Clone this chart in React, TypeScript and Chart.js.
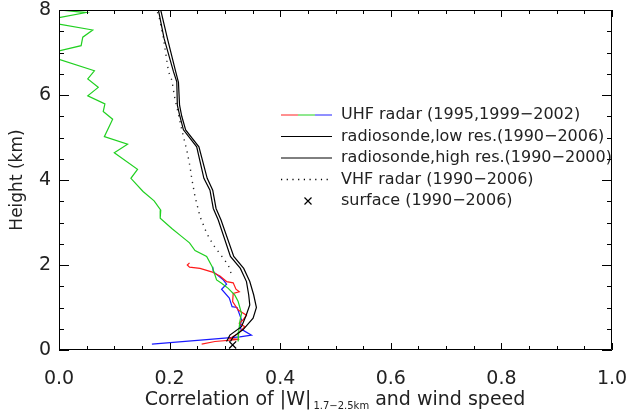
import React, { useEffect, useRef } from "react";
import { Chart, registerables } from "chart.js";

Chart.register(...registerables);

// ---------------- data ----------------
// UHF radar, green part (1999-2002): correlation vs height (km)
const uhfGreenCorr = [0.0, 0.049, 0.0, 0.0, 0.061, 0.043, 0.04, 0.0, 0.0, 0.064, 0.052, 0.071, 0.052, 0.083, 0.08, 0.097, 0.082, 0.124, 0.1, 0.142, 0.13, 0.152, 0.172, 0.184, 0.183, 0.204, 0.221, 0.236, 0.246, 0.267, 0.277, 0.285, 0.294, 0.306, 0.318, 0.324, 0.33, 0.327, 0.325, 0.324];
const uhfGreenHeight = [8.0, 7.94, 7.82, 7.67, 7.53, 7.36, 7.16, 7.04, 6.84, 6.57, 6.38, 6.18, 5.98, 5.79, 5.61, 5.43, 5.02, 4.84, 4.64, 4.25, 4.04, 3.73, 3.51, 3.29, 3.1, 2.86, 2.68, 2.52, 2.34, 2.2, 1.96, 1.65, 1.57, 1.45, 1.29, 1.14, 0.86, 0.67, 0.43, 0.2];

// UHF radar, red part
const uhfRedCorr = [0.236, 0.232, 0.236, 0.255, 0.276, 0.291, 0.303, 0.315, 0.32, 0.326, 0.315, 0.314, 0.324, 0.339, 0.333, 0.326, 0.336, 0.324, 0.309, 0.326, 0.282, 0.258];
const uhfRedHeight = [2.05, 2.0, 1.95, 1.92, 1.84, 1.74, 1.61, 1.58, 1.43, 1.37, 1.33, 1.14, 0.94, 0.82, 0.71, 0.63, 0.55, 0.39, 0.27, 0.25, 0.2, 0.14];

// UHF radar, blue part
const uhfBlueCorr = [0.278, 0.279, 0.297, 0.303, 0.294, 0.308, 0.313, 0.322, 0.33, 0.327, 0.348, 0.327, 0.168];
const uhfBlueHeight = [1.96, 1.84, 1.65, 1.55, 1.43, 1.22, 1.02, 1.0, 0.71, 0.51, 0.35, 0.31, 0.14];

// radiosonde, low resolution (1990-2006)
const sondeLowCorr = [0.183, 0.196, 0.211, 0.216, 0.218, 0.222, 0.229, 0.253, 0.268, 0.278, 0.284, 0.293, 0.316, 0.334, 0.345, 0.352, 0.357, 0.351, 0.333, 0.315, 0.31];
const sondeLowHeight = [8.05, 7.33, 6.55, 6.3, 5.76, 5.5, 5.18, 4.78, 4.04, 3.76, 3.33, 3.06, 2.2, 1.92, 1.61, 1.3, 1.0, 0.75, 0.48, 0.31, 0.2];

// radiosonde, high resolution (1990-2000)
const sondeHighCorr = [0.179, 0.19, 0.207, 0.213, 0.214, 0.218, 0.225, 0.249, 0.262, 0.273, 0.279, 0.288, 0.31, 0.328, 0.339, 0.343, 0.345, 0.338, 0.33, 0.309, 0.303];
const sondeHighHeight = [8.05, 7.33, 6.55, 6.31, 5.76, 5.53, 5.18, 4.78, 4.04, 3.76, 3.33, 3.06, 2.2, 1.92, 1.61, 1.3, 1.06, 0.8, 0.55, 0.35, 0.2];

// VHF radar (1990-2006)
const vhfCorr = [0.178, 0.181, 0.189, 0.198, 0.204, 0.21, 0.215, 0.222, 0.231, 0.237, 0.24, 0.246, 0.255, 0.267, 0.279, 0.297, 0.306, 0.314];
const vhfHeight = [7.95, 7.84, 7.33, 6.55, 6.35, 5.88, 5.61, 5.18, 4.71, 4.31, 4.04, 3.61, 3.14, 2.75, 2.47, 2.16, 2.0, 1.7];

// surface (1990-2006)
const surfaceCorr = [0.314];
const surfaceHeight = [0.12];

// axes
const xTickValues = [0, 0.2, 0.4, 0.6, 0.8, 1.0];
const yTickValues = [0, 2, 4, 6, 8];

const legendLabels = [
  "UHF radar (1995,1999\u22122002)",
  "radiosonde,low res.(1990\u22122006)",
  "radiosonde,high res.(1990\u22122000)",
  "VHF radar (1990\u22122006)",
  "surface (1990\u22122006)",
];

const FONT = '"DejaVu Sans", sans-serif';
const TEXT = "#222";

const pts = (xs: number[], ys: number[]) => xs.map((x, i) => ({ x, y: ys[i] }));

const framePlugin = {
  id: "frame",
  afterDraw(chart: any) {
    const { ctx, chartArea: a, scales } = chart;
    const xs = scales.x;
    const ys = scales.y;
    ctx.save();
    ctx.strokeStyle = "#000";
    ctx.lineWidth = 1;
    ctx.beginPath();
    ctx.rect(a.left + 0.5, a.top + 0.5, a.right - a.left - 1, a.bottom - a.top - 1);
    ctx.stroke();
    ctx.beginPath();
    for (let i = 0; i <= 20; i++) {
      const v = i * 0.05;
      const px = Math.round(xs.getPixelForValue(v)) + 0.5;
      const len = i % 4 === 0 ? 7 : 4;
      ctx.moveTo(px, a.bottom);
      ctx.lineTo(px, a.bottom - len);
      ctx.moveTo(px, a.top);
      ctx.lineTo(px, a.top + len);
    }
    for (let i = 0; i <= 16; i++) {
      const v = i * 0.5;
      const py = Math.round(ys.getPixelForValue(v)) + 0.5;
      const len = i % 4 === 0 ? 10 : 5;
      ctx.moveTo(a.left, py);
      ctx.lineTo(a.left + len, py);
      ctx.moveTo(a.right, py);
      ctx.lineTo(a.right - len, py);
    }
    ctx.stroke();

    // y title
    ctx.fillStyle = TEXT;
    ctx.font = `17px ${FONT}`;
    ctx.textAlign = "center";
    ctx.textBaseline = "middle";
    ctx.save();
    ctx.translate(18, (a.top + a.bottom) / 2);
    ctx.rotate(-Math.PI / 2);
    ctx.fillText("Height (km)", 0, 0);
    ctx.restore();

    // x title with subscript
    const part1 = "Correlation of |W|";
    const sub = "1.7\u22122.5km";
    const part2 = " and wind speed";
    const big = `19px ${FONT}`;
    const small = `10px ${FONT}`;
    ctx.textAlign = "left";
    ctx.textBaseline = "alphabetic";
    ctx.font = big;
    const w1 = ctx.measureText(part1).width;
    const w3 = ctx.measureText(part2).width;
    ctx.font = small;
    const w2 = ctx.measureText(sub).width;
    const total = w1 + w2 + w3 + 2;
    const x0 = 335 - total / 2;
    const base = 405;
    ctx.font = big;
    ctx.fillText(part1, x0, base);
    ctx.font = small;
    ctx.fillText(sub, x0 + w1 + 2, base + 4);
    ctx.font = big;
    ctx.fillText(part2, x0 + w1 + w2 + 2, base);

    // legend
    const rowY = [115, 136.5, 158, 179.5, 201];
    const lx0 = 281;
    const lx1 = 332;
    const tx = 341;
    ctx.lineWidth = 1;
    const seg = (lx1 - lx0) / 3;
    ["#ff2020", "#20d020", "#2020ff"].forEach((c, i) => {
      ctx.strokeStyle = c;
      ctx.beginPath();
      ctx.moveTo(lx0 + i * seg, rowY[0]);
      ctx.lineTo(lx0 + (i + 1) * seg, rowY[0]);
      ctx.stroke();
    });
    ctx.strokeStyle = "#000";
    [1, 2].forEach((r) => {
      ctx.beginPath();
      ctx.moveTo(lx0, rowY[r]);
      ctx.lineTo(lx1, rowY[r]);
      ctx.stroke();
    });
    ctx.setLineDash([1.2, 4.5]);
    ctx.lineWidth = 1.3;
    ctx.beginPath();
    ctx.moveTo(lx0, rowY[3]);
    ctx.lineTo(lx1, rowY[3]);
    ctx.stroke();
    ctx.setLineDash([]);
    ctx.lineWidth = 1.2;
    const cx = 308;
    const cy = rowY[4];
    ctx.beginPath();
    ctx.moveTo(cx - 3.5, cy - 3.5);
    ctx.lineTo(cx + 3.5, cy + 3.5);
    ctx.moveTo(cx + 3.5, cy - 3.5);
    ctx.lineTo(cx - 3.5, cy + 3.5);
    ctx.stroke();
    ctx.font = `16px ${FONT}`;
    ctx.fillStyle = TEXT;
    ctx.textAlign = "left";
    ctx.textBaseline = "middle";
    legendLabels.forEach((t, i) => ctx.fillText(t, tx, rowY[i]));
    ctx.restore();
  },
};

const zeroPad = (s: any) => {
  s.paddingTop = 0;
  s.paddingBottom = 0;
  s.paddingLeft = 0;
  s.paddingRight = 0;
};

export default function App() {
  const ref = useRef<HTMLCanvasElement>(null);
  useEffect(() => {
    const line = (label: string, xs: number[], ys: number[], color: string, extra: any = {}) => ({
      label,
      data: pts(xs, ys),
      showLine: true,
      borderColor: color,
      backgroundColor: color,
      borderWidth: 1.2,
      pointRadius: 0,
      tension: 0,
      ...extra,
    });
    const chart = new Chart(ref.current as HTMLCanvasElement, {
      type: "scatter",
      data: {
        datasets: [
          line("radiosonde,low res.", sondeLowCorr, sondeLowHeight, "#000"),
          line("radiosonde,high res.", sondeHighCorr, sondeHighHeight, "#000"),
          line("VHF radar", vhfCorr, vhfHeight, "#222", { borderDash: [1.2, 5], borderWidth: 1.4 }),
          line("UHF radar green", uhfGreenCorr, uhfGreenHeight, "#20d020"),
          line("UHF radar red", uhfRedCorr, uhfRedHeight, "#ff1a1a"),
          line("UHF radar blue", uhfBlueCorr, uhfBlueHeight, "#1a1aff"),
          {
            label: "surface",
            data: pts(surfaceCorr, surfaceHeight),
            showLine: false,
            pointStyle: "crossRot",
            pointRadius: 5,
            borderColor: "#000",
            borderWidth: 1.3,
          },
        ],
      },
      options: {
        animation: false,
        responsive: false,
        layout: { padding: { left: 0, right: 17, top: 10, bottom: 0 } },
        plugins: { legend: { display: false }, tooltip: { enabled: false } },
        scales: {
          x: {
            type: "linear",
            position: "bottom",
            min: 0,
            max: 1,
            grid: { display: false, drawTicks: false },
            border: { display: false },
            afterBuildTicks: (s: any) => {
              s.ticks = xTickValues.map((v) => ({ value: v }));
            },
            ticks: {
              autoSkip: false,
              maxRotation: 0,
              padding: 18,
              color: TEXT,
              font: { family: FONT, size: 19 },
              callback: (v: any) => Number(v).toFixed(1),
            },
            afterFit: (s: any) => {
              s.height = 60;
              zeroPad(s);
            },
          },
          y: {
            type: "linear",
            min: 0,
            max: 8,
            grid: { display: false, drawTicks: false },
            border: { display: false },
            afterBuildTicks: (s: any) => {
              s.ticks = yTickValues.map((v) => ({ value: v }));
            },
            ticks: {
              autoSkip: false,
              padding: 8,
              color: TEXT,
              font: { family: FONT, size: 19 },
              callback: (v: any) => String(v),
            },
            afterFit: (s: any) => {
              s.width = 59;
              zeroPad(s);
            },
          },
        },
      },
      plugins: [framePlugin],
    } as any);
    return () => chart.destroy();
  }, []);
  return (
    <div style={{ position: "fixed", left: 0, top: 0, width: 629, height: 410, background: "#fff" }}>
      <canvas ref={ref} width={629} height={410} style={{ display: "block", width: 629, height: 410 }} />
    </div>
  );
}
